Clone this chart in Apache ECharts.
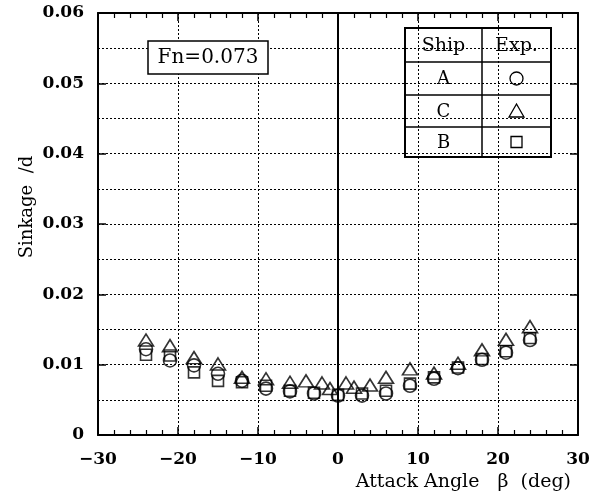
<!DOCTYPE html>
<html>
<head>
<meta charset="utf-8">
<script src="https://cdn.jsdelivr.net/npm/echarts@6/dist/echarts.min.js"></script>
<style>html,body{margin:0;padding:0;background:#fff;}#c{width:609px;height:496px;}</style>
</head>
<body>
<div id="c"></div>
<script>
// Data
const anglesAB = [-24, -21, -18, -15, -12, -9, -6, -3, 0, 3, 6, 9, 12, 15, 18, 21, 24];
const shipA = [0.0122, 0.0106, 0.0099, 0.0087, 0.0077, 0.0066, 0.0062, 0.0059, 0.0056, 0.0056, 0.0059, 0.0070, 0.0080, 0.0095, 0.0107, 0.0117, 0.0135];
const shipB = [0.0114, 0.0113, 0.0089, 0.0077, 0.0075, 0.0070, 0.0063, 0.0060, 0.0057, 0.0059, 0.0063, 0.0073, 0.0082, 0.0096, 0.0108, 0.0119, 0.0138];
const anglesC = [-24, -21, -18, -15, -12, -9, -6, -4, -2, -1, 1, 2, 4, 6, 9, 12, 15, 18, 21, 24];
const shipC = [0.0135, 0.0127, 0.0110, 0.0101, 0.0082, 0.0080, 0.0075, 0.0077, 0.0074, 0.0066, 0.0074, 0.0068, 0.0071, 0.0082, 0.0094, 0.0088, 0.0102, 0.0121, 0.0136, 0.0154];
const xTicks = [-30, -20, -10, 0, 10, 20, 30];
const yTicks = [0, 0.01, 0.02, 0.03, 0.04, 0.05, 0.06];
const legendRows = [['A', 'circle'], ['C', 'triangle'], ['B', 'square']];
const annotation = 'Fn=0.073';
const xTitle = 'Attack Angle   \u03b2  (deg)';
const yTitle = 'Sinkage  /d';

const FONT = 'DejaVu Serif';
const pairs = (xs, ys) => xs.map((x, i) => [x, ys[i]]);

const chart = echarts.init(document.getElementById('c'), null, {renderer: 'canvas'});

const axisCommonX = {
  type: 'value', min: xTicks[0], max: xTicks[xTicks.length - 1], interval: 10,
  axisLine: {show: true, onZero: false, lineStyle: {color: '#000', width: 2}},
  axisTick: {show: true, inside: true, length: 8, lineStyle: {color: '#000', width: 1.5}},
  minorTick: {show: true, splitNumber: 5, length: 5, lineStyle: {color: '#000', width: 1.2}}
};
const axisCommonY = {
  type: 'value', min: yTicks[0], max: yTicks[yTicks.length - 1], interval: 0.01,
  axisLine: {show: true, onZero: false, lineStyle: {color: '#000', width: 2}},
  axisTick: {show: true, inside: true, length: 8, lineStyle: {color: '#000', width: 1.5}},
  minorTick: {show: false, splitNumber: 2}
};
const dotted = {show: true, lineStyle: {color: '#000', type: [2, 2], width: 1}};

const symStyle = {color: 'rgba(0,0,0,0)', borderColor: '#000', borderWidth: 1.6};

const legendX = 405, legendY = 28, legendW = 146, colX = 482;
const rowYs = [28, 62, 95, 127, 157];
const legendSymbols = legendRows.map((r, i) => {
  const cy = (rowYs[i + 1] + rowYs[i + 2]) / 2;
  const cx = (colX + legendX + legendW) / 2;
  if (r[1] === 'circle') return {type: 'circle', shape: {cx: cx, cy: cy, r: 6.5}, style: {fill: 'none', stroke: '#000', lineWidth: 1.3}};
  if (r[1] === 'triangle') return {type: 'polygon', shape: {points: [[cx, cy - 7], [cx - 7.5, cy + 6], [cx + 7.5, cy + 6]]}, style: {fill: 'none', stroke: '#000', lineWidth: 1.3}};
  return {type: 'rect', shape: {x: cx - 5.5, y: cy - 5.5, width: 11, height: 11}, style: {fill: 'none', stroke: '#000', lineWidth: 1.3}};
});
const legendTexts = legendRows.map((r, i) => ({
  type: 'text', x: (legendX + colX) / 2, y: (rowYs[i + 1] + rowYs[i + 2]) / 2 + 1,
  style: {text: r[0], font: '18px "' + FONT + '"', fill: '#000', align: 'center', verticalAlign: 'middle'}
}));
const legendLines = [rowYs[1], rowYs[2], rowYs[3]].map(y => ({
  type: 'line', shape: {x1: legendX, y1: y, x2: legendX + legendW, y2: y}, style: {stroke: '#000', lineWidth: 1.5}
}));

chart.setOption({
  animation: false,
  backgroundColor: '#fff',
  grid: {left: 98, right: 31, top: 13, bottom: 61, containLabel: false},
  xAxis: [
    Object.assign({}, axisCommonX, {
      position: 'bottom',
      splitLine: dotted,
      axisLabel: {show: true, color: '#000', fontFamily: FONT, fontSize: 17, fontWeight: 'bold', margin: 16,
        formatter: v => (v < 0 ? '\u2212' + Math.abs(v) : String(v))}
    }),
    Object.assign({}, axisCommonX, {position: 'top', splitLine: {show: false}, axisLabel: {show: false}})
  ],
  yAxis: [
    Object.assign({}, axisCommonY, {
      position: 'left',
      splitLine: dotted,
      minorSplitLine: dotted,
      axisLabel: {show: true, color: '#000', fontFamily: FONT, fontSize: 17, fontWeight: 'bold', margin: 14,
        formatter: v => (v === 0 ? '0' : v.toFixed(2))}
    }),
    Object.assign({}, axisCommonY, {position: 'right', splitLine: {show: false}, axisLabel: {show: false}})
  ],
  series: [
    {
      name: 'A', type: 'scatter', xAxisIndex: 0, yAxisIndex: 0,
      symbol: 'circle', symbolSize: 13, itemStyle: symStyle,
      data: pairs(anglesAB, shipA),
      markLine: {silent: true, symbol: 'none', label: {show: false},
        lineStyle: {color: '#000', type: 'solid', width: 2}, data: [{xAxis: 0}]}
    },
    {
      name: 'C', type: 'scatter', xAxisIndex: 0, yAxisIndex: 0,
      symbol: 'triangle', symbolSize: [15, 12], itemStyle: symStyle,
      data: pairs(anglesC, shipC)
    },
    {
      name: 'B', type: 'scatter', xAxisIndex: 0, yAxisIndex: 0,
      symbol: 'rect', symbolSize: 11, itemStyle: symStyle,
      data: pairs(anglesAB, shipB)
    }
  ],
  graphic: [
    {type: 'rect', shape: {x: 148, y: 41, width: 120, height: 33}, style: {fill: '#fff', stroke: '#000', lineWidth: 1.5}, z: 10},
    {type: 'text', x: 208, y: 58, z: 11, style: {text: annotation, font: '20px "' + FONT + '"', fill: '#000', align: 'center', verticalAlign: 'middle'}},
    {type: 'group', z: 10, children: [
      {type: 'rect', shape: {x: legendX, y: legendY, width: legendW, height: rowYs[4] - legendY}, style: {fill: '#fff', stroke: '#000', lineWidth: 2}},
      {type: 'line', shape: {x1: colX, y1: legendY, x2: colX, y2: rowYs[4]}, style: {stroke: '#000', lineWidth: 1.5}},
      {type: 'text', x: (legendX + colX) / 2, y: 46, style: {text: 'Ship', font: '19px "' + FONT + '"', fill: '#000', align: 'center', verticalAlign: 'middle'}},
      {type: 'text', x: (colX + legendX + legendW) / 2, y: 46, style: {text: 'Exp.', font: '19px "' + FONT + '"', fill: '#000', align: 'center', verticalAlign: 'middle'}}
    ].concat(legendLines, legendTexts, legendSymbols)},
    {type: 'text', x: 27, y: 207, rotation: Math.PI / 2, style: {text: yTitle, font: '18px "' + FONT + '"', fill: '#000', align: 'center', verticalAlign: 'middle'}},
    {type: 'text', x: 571, y: 482, style: {text: xTitle, font: '19px "' + FONT + '"', fill: '#000', align: 'right', verticalAlign: 'middle'}}
  ]
});
</script>
</body>
</html>
